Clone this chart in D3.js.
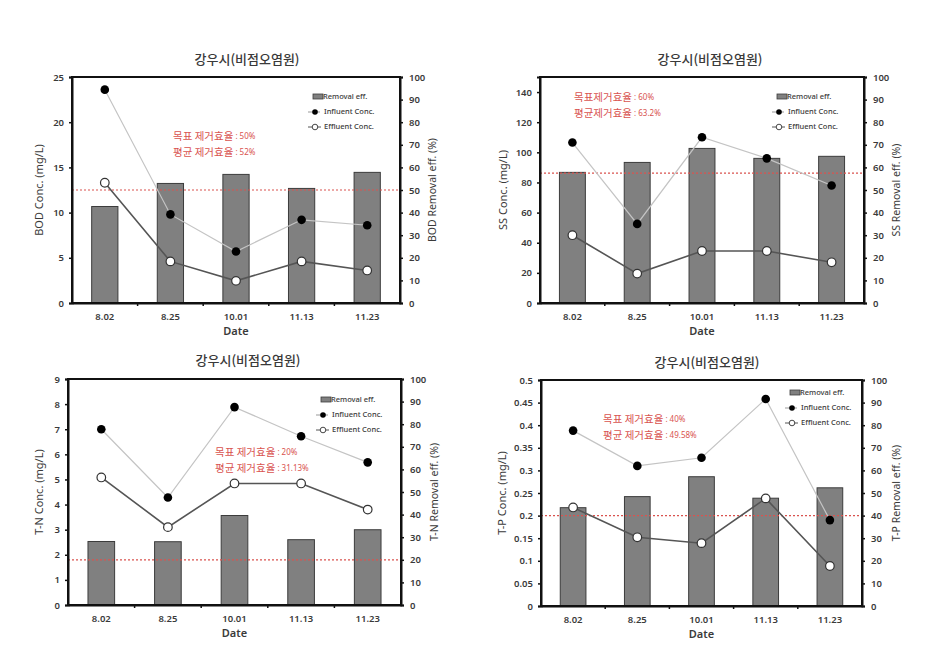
<!DOCTYPE html>
<html>
<head>
<meta charset="utf-8">
<script src="https://cdn.jsdelivr.net/npm/d3@7"></script>
<style>
  html, body { margin: 0; padding: 0; background: #fff; }
  svg { display: block; }
  .tick text { font-family: "Noto Sans", "Open Sans", sans-serif; }
</style>
</head>
<body>
<svg id="chart" width="938" height="655"></svg>
<script>
// ---------------- data ----------------
const dates = ["8.02", "8.25", "10.01", "11.13", "11.23"];
const chartTitle = "강우시(비점오염원)";

const bodInfluent = [23.6, 9.8, 5.7, 9.2, 8.6];
const bodEffluent = [13.3, 4.6, 2.45, 4.6, 3.6];
const bodRemoval  = [42.7, 52.9, 56.9, 50.7, 57.8];

const ssInfluent = [106.5, 52.5, 110, 96, 78];
const ssEffluent = [45, 19.5, 34.5, 34.5, 27];
const ssRemoval  = [57.8, 62.2, 68.4, 64.0, 64.9];

const tnInfluent = [7.0, 4.28, 7.88, 6.72, 5.68];
const tnEffluent = [5.08, 3.1, 4.84, 4.84, 3.8];
const tnRemoval  = [28.1, 28.0, 39.6, 28.9, 33.3];

const tpInfluent = [0.388, 0.31, 0.328, 0.458, 0.19];
const tpEffluent = [0.218, 0.152, 0.139, 0.238, 0.0885];
const tpRemoval  = [43.5, 48.4, 57.2, 47.7, 52.3];

const targetLines = [50, 57.5, 20, 40];           // red dotted line, % (right axis)
const targetLabels = ["목표 제거효율", "목표제거효율", "목표 제거효율", "목표 제거효율"];
const targetValues = ["50%", "60%", "20%", "40%"];
const avgLabels = ["평균 제거효율", "평균제거효율", "평균 제거효율", "평균 제거효율"];
const avgValues = ["52%", "63.2%", "31.13%", "49.58%"];

const leftMax = [25, 150, 9, 0.5];
const leftTicks = [
  [0, 5, 10, 15, 20, 25],
  [0, 20, 40, 60, 80, 100, 120, 140],
  [0, 1, 2, 3, 4, 5, 6, 7, 8, 9],
  [0, 0.05, 0.1, 0.15, 0.2, 0.25, 0.3, 0.35, 0.4, 0.45, 0.5]
];
const rightTicks = [0, 10, 20, 30, 40, 50, 60, 70, 80, 90, 100];
const leftTitles = ["BOD Conc. (mg/L)", "SS Conc. (mg/L)", "T-N Conc. (mg/L)", "T-P Conc. (mg/L)"];
const rightTitles = ["BOD Removal eff. (%)", "SS Removal eff. (%)", "T-N Removal eff. (%)", "T-P Removal eff. (%)"];
const legendLabels = ["Removal eff.", "Influent Conc.", "Effluent Conc."];
const xTitle = "Date";

// ---------------- layout (positions only) ----------------
const layout = [
  { l: 72,  r: 400, t: 77,  b: 303, titleX: 247, titleY: 60,  leftTX: 40,  rightTX: 433,
    legX: 323, legY: 97,  annX: 173, annY: 137 },
  { l: 540, r: 864, t: 77,  b: 303, titleX: 710, titleY: 60,  leftTX: 504, rightTX: 897,
    legX: 787, legY: 97,  annX: 574, annY: 98 },
  { l: 68,  r: 401, t: 379, b: 605, titleX: 248, titleY: 361, leftTX: 40,  rightTX: 435,
    legX: 331, legY: 400, annX: 215, annY: 453 },
  { l: 541, r: 862, t: 380, b: 606, titleX: 707, titleY: 363, leftTX: 503, rightTX: 897,
    legX: 800, legY: 393, annX: 603, annY: 420 }
];

const panels = [
  { inf: bodInfluent, eff: bodEffluent, rem: bodRemoval },
  { inf: ssInfluent,  eff: ssEffluent,  rem: ssRemoval },
  { inf: tnInfluent,  eff: tnEffluent,  rem: tnRemoval },
  { inf: tpInfluent,  eff: tpEffluent,  rem: tpRemoval }
];

const svg = d3.select("#chart");
const RED = "#d9534f";
const TXT = "#3a3a3a";

panels.forEach((p, i) => {
  const L = layout[i];
  const g = svg.append("g");

  const x = d3.scaleBand().domain(dates).range([L.l, L.r]);
  const yL = d3.scaleLinear().domain([0, leftMax[i]]).range([L.b, L.t]);
  const yR = d3.scaleLinear().domain([0, 100]).range([L.b, L.t]);

  // bars
  const bw = x.bandwidth() * 0.4;
  g.selectAll("rect.bar").data(p.rem).join("rect")
    .attr("class", "bar")
    .attr("x", (d, j) => x(dates[j]) + x.bandwidth() / 2 - bw / 2)
    .attr("y", d => yR(d))
    .attr("width", bw)
    .attr("height", d => yR(0) - yR(d))
    .attr("fill", "#808080")
    .attr("stroke", "#3c3c3c")
    .attr("stroke-width", 1);

  // target line
  g.append("line")
    .attr("x1", L.l).attr("x2", L.r)
    .attr("y1", yR(targetLines[i])).attr("y2", yR(targetLines[i]))
    .attr("stroke", RED).attr("stroke-width", 1.2)
    .attr("stroke-dasharray", "2,2");

  const cx = (d, j) => x(dates[j]) + x.bandwidth() / 2;

  // influent line
  g.append("path").datum(p.inf)
    .attr("d", d3.line().x(cx).y(d => yL(d)))
    .attr("fill", "none").attr("stroke", "#c4c4c4").attr("stroke-width", 1.2);
  // effluent line
  g.append("path").datum(p.eff)
    .attr("d", d3.line().x(cx).y(d => yL(d)))
    .attr("fill", "none").attr("stroke", "#555").attr("stroke-width", 1.6);

  g.selectAll("circle.inf").data(p.inf).join("circle")
    .attr("class", "inf")
    .attr("cx", cx).attr("cy", d => yL(d)).attr("r", 4.3)
    .attr("fill", "#000");
  g.selectAll("circle.eff").data(p.eff).join("circle")
    .attr("class", "eff")
    .attr("cx", cx).attr("cy", d => yL(d)).attr("r", 4.3)
    .attr("fill", "#fff").attr("stroke", "#333").attr("stroke-width", 1.2);

  // frame
  g.append("rect")
    .attr("x", L.l).attr("y", L.t)
    .attr("width", L.r - L.l).attr("height", L.b - L.t)
    .attr("fill", "none").attr("stroke", "#111").attr("stroke-width", 2);

  // axes
  const fmtL = d => String(+d.toFixed(3));
  const axL = g.append("g").attr("transform", `translate(${L.l},0)`)
    .call(d3.axisLeft(yL).tickValues(leftTicks[i]).tickFormat(fmtL).tickSize(3).tickPadding(5));
  const axR = g.append("g").attr("transform", `translate(${L.r},0)`)
    .call(d3.axisRight(yR).tickValues(rightTicks).tickSize(3).tickPadding(6));
  const axB = g.append("g").attr("transform", `translate(0,${L.b})`)
    .call(d3.axisBottom(x).tickSize(0).tickPadding(10));
  [axL, axR, axB].forEach(a => {
    a.select(".domain").attr("stroke", "#111").attr("stroke-width", 2);
    a.selectAll(".tick line").attr("stroke", "#111").attr("stroke-width", 1.5);
    a.selectAll(".tick text").attr("font-size", 9.5).attr("font-weight", 600).attr("fill", TXT);
  });
  // bottom boundary ticks
  g.selectAll("line.bt").data(dates.slice(1)).join("line")
    .attr("class", "bt")
    .attr("x1", d => x(d)).attr("x2", d => x(d))
    .attr("y1", L.b).attr("y2", L.b + 3)
    .attr("stroke", "#111").attr("stroke-width", 1.5);

  // titles
  g.append("text").attr("x", L.titleX).attr("y", L.titleY)
    .attr("text-anchor", "middle").attr("dominant-baseline", "middle")
    .attr("font-family", "Noto Sans CJK KR").attr("font-size", 13).attr("font-weight", 500)
    .attr("fill", TXT).text(chartTitle);
  g.append("text").attr("x", (L.l + L.r) / 2).attr("y", L.b + 29)
    .attr("text-anchor", "middle").attr("dominant-baseline", "middle")
    .attr("font-family", "Noto Sans").attr("font-size", 11).attr("font-weight", 600)
    .attr("fill", TXT).text(xTitle);
  g.append("text")
    .attr("transform", `translate(${L.leftTX},${(L.t + L.b) / 2}) rotate(-90)`)
    .attr("text-anchor", "middle").attr("dominant-baseline", "middle")
    .attr("font-family", "Noto Sans").attr("font-size", 11).attr("fill", TXT)
    .text(leftTitles[i]);
  g.append("text")
    .attr("transform", `translate(${L.rightTX},${(L.t + L.b) / 2}) rotate(-90)`)
    .attr("text-anchor", "middle").attr("dominant-baseline", "middle")
    .attr("font-family", "Noto Sans").attr("font-size", 10.5).attr("fill", TXT)
    .text(rightTitles[i]);

  // legend
  const lg = g.append("g").attr("font-family", "Noto Sans").attr("font-size", 7.5)
    .attr("font-weight", 500).attr("fill", TXT);
  lg.append("rect").attr("x", L.legX - 10).attr("y", L.legY - 3)
    .attr("width", 10).attr("height", 5).attr("fill", "#808080").attr("stroke", "#3c3c3c").attr("stroke-width", 0.8);
  lg.append("line").attr("x1", L.legX - 15).attr("x2", L.legX - 3)
    .attr("y1", L.legY + 15).attr("y2", L.legY + 15).attr("stroke", "#999").attr("stroke-width", 1);
  lg.append("circle").attr("cx", L.legX - 8).attr("cy", L.legY + 15).attr("r", 2.8).attr("fill", "#000");
  lg.append("line").attr("x1", L.legX - 15).attr("x2", L.legX - 2)
    .attr("y1", L.legY + 30).attr("y2", L.legY + 30).attr("stroke", "#555").attr("stroke-width", 1);
  lg.append("circle").attr("cx", L.legX - 8).attr("cy", L.legY + 30).attr("r", 2.8)
    .attr("fill", "#fff").attr("stroke", "#333").attr("stroke-width", 0.9);
  legendLabels.forEach((t, k) => {
    lg.append("text").attr("x", L.legX + (k === 0 ? 0 : 1)).attr("y", L.legY + k * 15)
      .attr("dominant-baseline", "middle").text(t);
  });

  // annotation
  const an = g.append("g").attr("font-family", "Noto Sans CJK KR").attr("fill", RED);
  [[targetLabels[i], targetValues[i]], [avgLabels[i], avgValues[i]]].forEach((pair, k) => {
    const t = an.append("text").attr("x", L.annX).attr("y", L.annY + k * 16)
      .attr("dominant-baseline", "middle");
    t.append("tspan").attr("font-size", 10.5).text(pair[0]);
    t.append("tspan").attr("font-size", 8).attr("font-family", "Noto Sans").text(" : " + pair[1]);
  });
});
</script>
</body>
</html>
